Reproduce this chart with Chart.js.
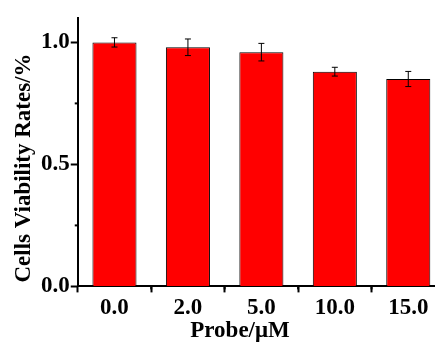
<!DOCTYPE html>
<html>
<head>
<meta charset="utf-8">
<script src="https://cdn.jsdelivr.net/npm/chart.js@4"></script>
<style>
  html, body { margin: 0; padding: 0; background: #fff; }
  #wrap { width: 435px; height: 345px; overflow: hidden; position: relative; }
</style>
</head>
<body>
<div id="wrap"><canvas id="viability" width="450" height="345"></canvas></div>
<script>
const probeLabels = ['0.0', '2.0', '5.0', '10.0', '15.0'];
const viability = [1.0, 0.98, 0.96, 0.88, 0.85];
const viabilityErr = [0.019, 0.034, 0.036, 0.018, 0.031];
const yMajorTicks = [0, 0.5, 1.0];
const yMinorTicks = [0.25, 0.75];

const fontFamily = "'Liberation Serif', 'Times New Roman', serif";

// error bars, minor ticks and the two axis titles
const extras = {
  id: 'extras',
  afterDatasetsDraw(chart) {
    const ctx = chart.ctx;
    const x = chart.scales.x;
    const y = chart.scales.y;
    ctx.save();
    ctx.strokeStyle = '#000';
    ctx.lineWidth = 1;
    viability.forEach((v, i) => {
      const px = x.getPixelForValue(i);
      const top = y.getPixelForValue(v + viabilityErr[i]);
      const bot = y.getPixelForValue(v - viabilityErr[i]);
      ctx.beginPath();
      ctx.moveTo(px, top); ctx.lineTo(px, bot);
      ctx.moveTo(px - 3, top); ctx.lineTo(px + 3, top);
      ctx.moveTo(px - 3, bot); ctx.lineTo(px + 3, bot);
      ctx.stroke();
    });
    ctx.restore();
  },
  afterDraw(chart) {
    const ctx = chart.ctx;
    const x = chart.scales.x;
    const y = chart.scales.y;
    const area = chart.chartArea;
    ctx.save();
    ctx.strokeStyle = '#000';
    ctx.lineWidth = 2;
    yMinorTicks.forEach(v => {
      const py = y.getPixelForValue(v);
      ctx.beginPath();
      ctx.moveTo(area.left, py); ctx.lineTo(area.left - 3, py);
      ctx.stroke();
    });
    for (let i = 0; i < probeLabels.length; i++) {
      const px = x.getPixelForValue(i + 0.5);
      ctx.beginPath();
      ctx.moveTo(px, area.bottom); ctx.lineTo(px, area.bottom + 3);
      ctx.stroke();
    }
    ctx.fillStyle = '#000';
    ctx.font = 'bold 23px ' + fontFamily;
    ctx.textAlign = 'center';
    ctx.textBaseline = 'alphabetic';
    ctx.fillText('Probe/\u03bcM', 240, 337);
    ctx.translate(30, 168);
    ctx.rotate(-Math.PI / 2);
    ctx.fillText('Cells Viability Rates/%', 0, 0);
    ctx.restore();
  }
};

new Chart(document.getElementById('viability'), {
  type: 'bar',
  data: {
    labels: probeLabels,
    datasets: [{
      data: viability,
      backgroundColor: '#ff0000',
      borderColor: '#000',
      borderWidth: 1,
      barPercentage: 0.6,
      categoryPercentage: 1.0
    }]
  },
  options: {
    responsive: false,
    animation: false,
    layout: { padding: { left: 40, right: 5, top: 18, bottom: 21 } },
    plugins: { legend: { display: false }, tooltip: { enabled: false } },
    scales: {
      x: {
        grid: { drawOnChartArea: false, tickLength: 6, tickWidth: 2, tickColor: '#000' },
        border: { color: '#000', width: 2 },
        ticks: { color: '#000', padding: 2, font: { family: fontFamily, size: 23, weight: 'bold' } }
      },
      y: {
        min: 0,
        max: 1.1,
        afterBuildTicks: axis => { axis.ticks = yMajorTicks.map(v => ({ value: v })); },
        grid: { drawOnChartArea: false, tickLength: 7, tickWidth: 2, tickColor: '#000' },
        border: { color: '#000', width: 2 },
        ticks: {
          color: '#000', padding: 1,
          font: { family: fontFamily, size: 23, weight: 'bold' },
          callback: v => v.toFixed(1)
        }
      }
    }
  },
  plugins: [extras]
});
</script>
</body>
</html>
